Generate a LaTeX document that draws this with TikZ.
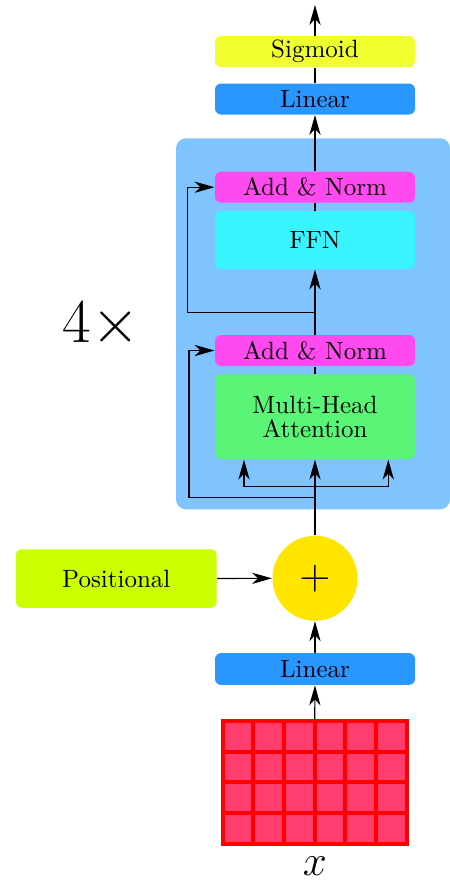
\documentclass[tikz,border=0pt]{standalone}
\usetikzlibrary{arrows.meta}
\definecolor{sigc}{RGB}{240,255,46}
\definecolor{linc}{RGB}{42,150,255}
\definecolor{blkc}{RGB}{128,196,255}
\definecolor{addc}{RGB}{255,74,240}
\definecolor{ffnc}{RGB}{57,243,255}
\definecolor{mhac}{RGB}{90,245,118}
\definecolor{circc}{RGB}{255,229,0}
\definecolor{posc}{RGB}{204,255,0}
\definecolor{gridfill}{RGB}{255,61,110}
\definecolor{gridline}{RGB}{255,0,0}
\begin{document}
\begin{tikzpicture}[x=0.4pt,y=-0.4pt,
  box/.style={rounded corners=2.4pt, minimum width=80pt, minimum height=12.4pt, inner sep=0pt, align=center, font=\fontsize{10}{12}\selectfont},
  conn/.style={line width=0.45pt},
  arr/.style={conn,-{Stealth[length=8pt,width=4.5pt,inset=2.4pt]}}]
\useasboundingbox (0,0) rectangle (450,881);
% encoder block
\fill[blkc, rounded corners=4pt] (176,138.3) rectangle (450,509.3);
% nodes
\node[box, fill=sigc] (sig) at (315,51.5) {Sigmoid};
\node[box, fill=linc] (lin2) at (315,99) {Linear};
\node[box, fill=addc] (add2) at (315,187.2) {Add \& Norm};
\node[box, fill=ffnc, minimum height=23.2pt] (ffn) at (315,240) {FFN};
\node[box, fill=addc] (add1) at (315,350.5) {Add \& Norm};
\node[box, fill=mhac, minimum height=33.9pt] (mha) at (315,416.7) {Multi-Head\\[-2.4pt]Attention};
\node[circle, fill=circc, minimum size=34pt, inner sep=0pt] (circ) at (315,578.3) {\fontsize{17}{17}\selectfont$+$};
\node[box, fill=posc, minimum width=80.3pt, minimum height=23.4pt] (pos) at (116.3,578.5) {Positional};
\node[box, fill=linc, minimum height=12.7pt] (lin1) at (315,669) {Linear};
\node[fill=gridfill, minimum width=73.6pt, minimum height=49.3pt, inner sep=0pt] (grid) at (314.7,782.35) {};
\foreach \i in {0,...,6} \draw[gridline, line width=1.6pt, line cap=rect] (222.7+\i*30.667,720.7) -- (222.7+\i*30.667,844);
\foreach \j in {0,...,4} \draw[gridline, line width=1.6pt, line cap=rect] (222.7,720.7+\j*30.825) -- (406.7,720.7+\j*30.825);
\node (xlab) at (315,866) {\fontsize{18}{18}\selectfont$x$};
\node (rep) at (101,325) {\fontsize{28}{30}\selectfont$4\times$};
% coordinates
\coordinate (out) at (315,5);
\coordinate (br) at (315,486.7);
\coordinate (bl) at (244,486.7);
\coordinate (brr) at (388.3,486.7);
\coordinate (s1) at (315,497.7);
\coordinate (k1) at (189,497.7);
\coordinate (s2) at (315,312.7);
\coordinate (k2) at (187.3,312.7);
% connectors
\draw[arr] (grid.north) -- (lin1.south);
\draw[arr] (lin1.north) -- (circ.south);
\draw[arr] (pos.east) -- (circ.west);
\draw[arr] (circ.north) -- (mha.south);
\draw[arr] (br) -| (mha.south -| bl);
\draw[arr] (br) -| (mha.south -| brr);
\draw[arr] (s1) -- (k1) |- (add1.west);
\draw[conn] (mha.north) -- (add1.south);
\draw[arr] (add1.north) -- (ffn.south);
\draw[arr] (s2) -- (k2) |- (add2.west);
\draw[conn] (ffn.north) -- (add2.south);
\draw[arr] (add2.north) -- (lin2.south);
\draw[conn] (lin2.north) -- (sig.south);
\draw[arr] (sig.north) -- (out);
\end{tikzpicture}
\end{document}
